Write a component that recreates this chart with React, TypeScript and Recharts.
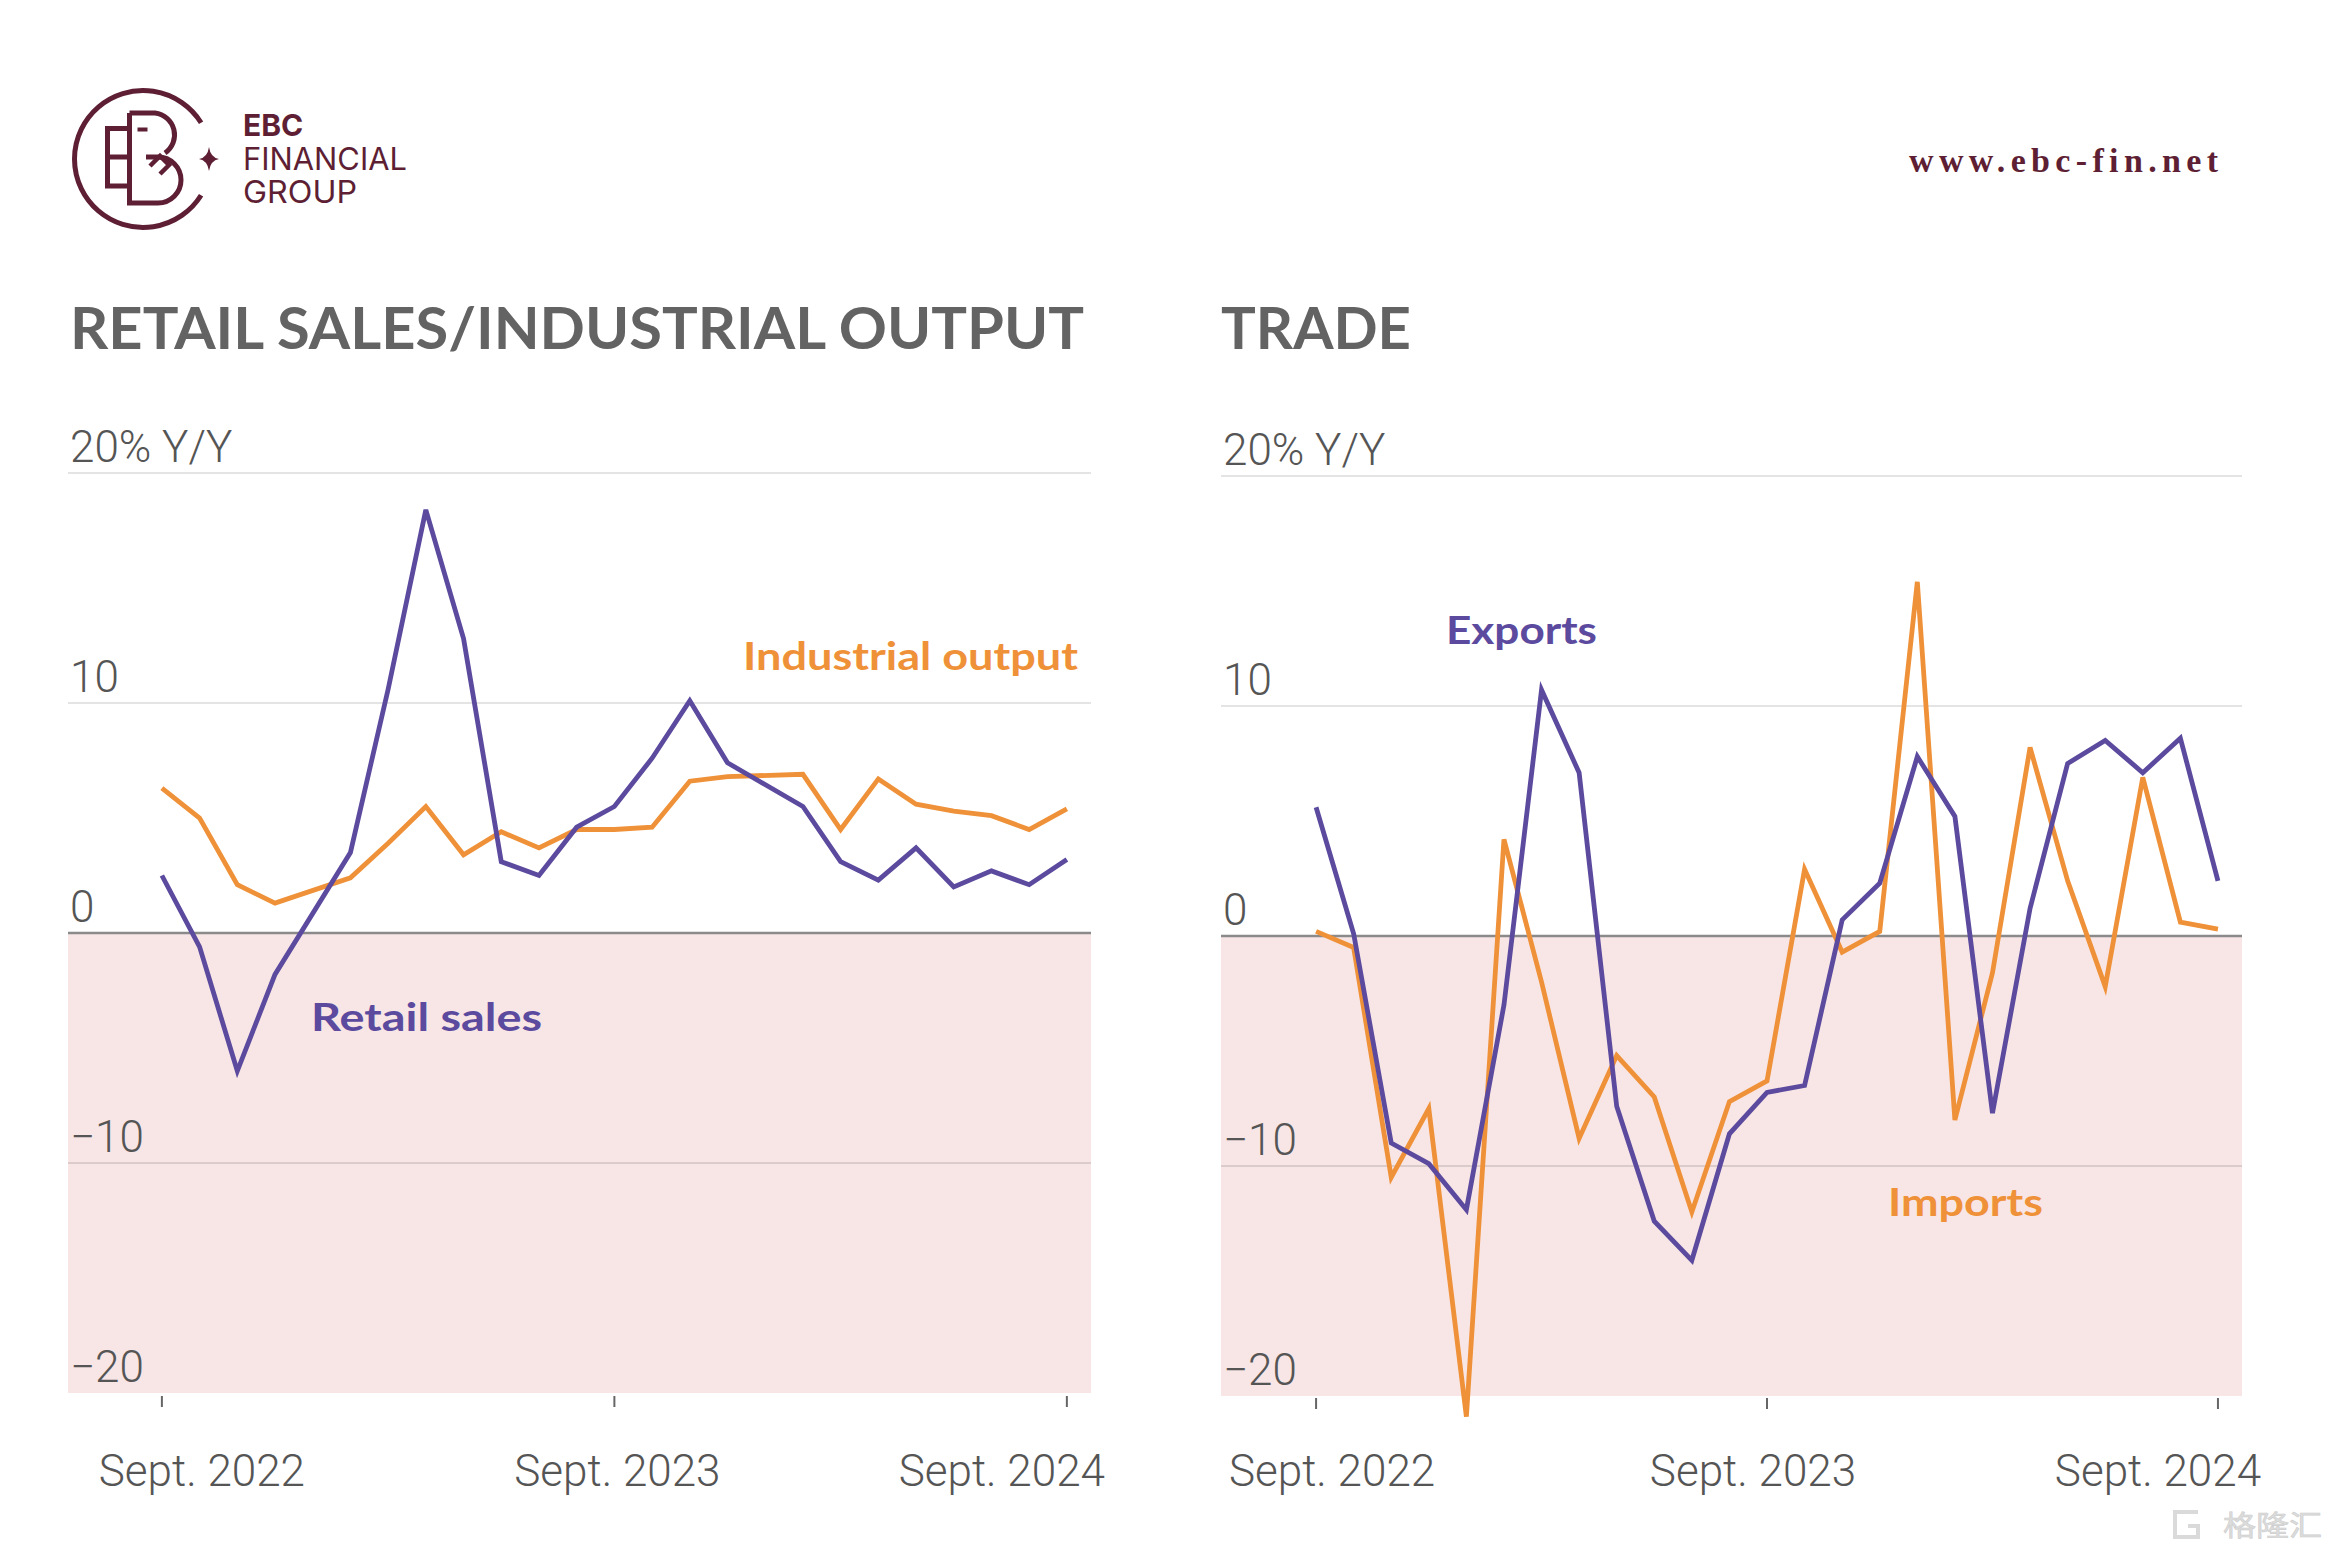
import React from 'react';
import { LineChart, Line, XAxis, YAxis, ReferenceArea, ReferenceLine } from 'recharts';

// ---------- data ----------
const months = [
  '2022-09', '2022-10', '2022-11', '2022-12', '2023-01', '2023-02', '2023-03', '2023-04',
  '2023-05', '2023-06', '2023-07', '2023-08', '2023-09', '2023-10', '2023-11', '2023-12',
  '2024-01', '2024-02', '2024-03', '2024-04', '2024-05', '2024-06', '2024-07', '2024-08', '2024-09',
];

const retailSales: (number | null)[] = [
  2.5, -0.6, -6.0, -1.8, null, 3.5, 10.6, 18.4, 12.8, 3.1, 2.5, 4.6, 5.5,
  7.6, 10.1, 7.4, null, 5.5, 3.1, 2.3, 3.7, 2.0, 2.7, 2.1, 3.2,
];
const industrialOutput: (number | null)[] = [
  6.3, 5.0, 2.1, 1.3, null, 2.4, 3.9, 5.5, 3.4, 4.4, 3.7, 4.5, 4.5,
  4.6, 6.6, 6.8, null, 6.9, 4.5, 6.7, 5.6, 5.3, 5.1, 4.5, 5.4,
];
const exportsYoY = [
  5.6, 0.1, -9.0, -9.9, -11.9, -3.0, 10.7, 7.1, -7.4, -12.4, -14.1, -8.6, -6.8,
  -6.5, 0.7, 2.3, 7.8, 5.2, -7.7, 1.2, 7.5, 8.5, 7.1, 8.6, 2.4,
];
const importsYoY = [
  0.2, -0.5, -10.5, -7.5, -20.9, 4.2, -2.0, -8.8, -5.2, -7.0, -12.0, -7.2, -6.3,
  2.9, -0.7, 0.2, 15.4, -8.0, -1.6, 8.2, 2.4, -2.2, 6.9, 0.6, 0.3,
];

const xTickValues = [0, 12, 24];
const xTickLabels = ['Sept. 2022', 'Sept. 2023', 'Sept. 2024'];
const yTickValues = [-20, -10, 0, 10, 20];
const yTickLabels = ['\u221220', '\u221210', '0', '10', '20% Y/Y'];

const leftData = months.map((m, i) => ({ idx: i, month: m, retail: retailSales[i], industrial: industrialOutput[i] }));
const rightData = months.map((m, i) => ({ idx: i, month: m, exports: exportsYoY[i], imports: importsYoY[i] }));

// ---------- style ----------
const PURPLE = '#5b4a9e';
const ORANGE = '#ef9138';
const PINK = '#f8e6e6';
const MAROON = '#5e1f34';
const TICK_FONT = 'Roboto, "Open Sans", sans-serif';
const BOLD_FONT = 'Lato, "Open Sans", sans-serif';

const gridStroke = (v: number) => (v === 0 ? '#8a8a8a' : v === -20 ? 'none' : v < 0 ? '#dccbcb' : '#e4e4e4');
const gridWidth = (v: number) => (v === 0 ? 2.5 : 2);

const YLabel = (props: any) => {
  const { viewBox, text } = props;
  const x = viewBox?.x ?? 0;
  const y = viewBox?.y ?? 0;
  return (
    <text x={x + 2} y={y - 11} fill="#555" fontSize={44} fontWeight={300} fontFamily={TICK_FONT}>
      {text}
    </text>
  );
};

const makeXTick = (offsets: number[], tickTop: number, labelY: number) => (props: any) => {
  const { x, payload } = props;
  const i = xTickValues.indexOf(payload.value);
  return (
    <g>
      <line x1={x} x2={x} y1={tickTop} y2={tickTop + 11} stroke="#666" strokeWidth={2} />
      <text x={x + offsets[i]} y={labelY} textAnchor="middle" fill="#555" fontSize={44} fontWeight={300} fontFamily={TICK_FONT}>
        {xTickLabels[i]}
      </text>
    </g>
  );
};

function Panel(props: {
  data: any[]; width: number; margin: any; xDomain: [number, number];
  keys: { key: string; color: string }[]; xOffsets: number[]; tickTop: number;
}) {
  const { data, width, margin, xDomain, keys, xOffsets, tickTop } = props;
  return (
    <LineChart width={width} height={1566} data={data} margin={margin}>
      <XAxis type="number" dataKey="idx" domain={xDomain} ticks={xTickValues} tickLine={false} axisLine={false}
        height={60} tick={makeXTick(xOffsets, tickTop, 1486)} interval={0} />
      <YAxis type="number" domain={[-21.5, 20]} ticks={yTickValues} hide />
      <ReferenceArea y1={-20} y2={0} fill={PINK} fillOpacity={1} stroke="none" />
      {yTickValues.map((v, i) => (
        <ReferenceLine key={v} y={v} stroke={gridStroke(v)} strokeWidth={gridWidth(v)}
          label={<YLabel text={yTickLabels[i]} />} />
      ))}
      {keys.map((k) => (
        <Line key={k.key} type="linear" dataKey={k.key} stroke={k.color} strokeWidth={4.8} dot={false}
          activeDot={false} connectNulls isAnimationActive={false} />
      ))}
    </LineChart>
  );
}

function Logo() {
  return (
    <g fill="none" stroke={MAROON} strokeWidth={5}>
      <path d="M201.1 122.7 A68.5 68.5 0 1 0 201.1 195.3" />
      <path d="M127 128.5 H107.5 V186 H127 M107.5 157 H131" />
      <path d="M129.5 113 V203 H158 A23 23 0 0 0 158 157 H146 M129.5 113 H155 A22 22 0 0 1 165 153" />
      <rect x={138} y={128} width={9} height={3} fill={MAROON} strokeWidth={1} />
      <path d="M150 166 L160 156 L169 165 L160 174" strokeWidth={4.5} />
      <path d="M209 147 Q210.5 157.5 219 159 Q210.5 160.5 209 171 Q207.5 160.5 199 159 Q207.5 157.5 209 147Z" fill={MAROON} stroke="none" />
    </g>
  );
}

export default function App() {
  return (
    <div style={{ position: 'absolute', left: 0, top: 0, width: 2334, height: 1566, background: '#fff', overflow: 'hidden' }}>
      <div style={{ position: 'absolute', left: 0, top: 0 }}>
        <Panel data={leftData} width={1160} margin={{ top: 473, left: 68, right: 69, bottom: 78.5 }}
          xDomain={[-2.49, 24.64]}
          keys={[{ key: 'industrial', color: ORANGE }, { key: 'retail', color: PURPLE }]}
          xOffsets={[40, 3, -65]} tickTop={1396} />
      </div>
      <div style={{ position: 'absolute', left: 1160, top: 0 }}>
        <Panel data={rightData} width={1174} margin={{ top: 476, left: 61, right: 92, bottom: 75.5 }}
          xDomain={[-2.53, 24.64]}
          keys={[{ key: 'imports', color: ORANGE }, { key: 'exports', color: PURPLE }]}
          xOffsets={[16, -14, -60]} tickTop={1398} />
      </div>
      <svg width={2334} height={1566} style={{ position: 'absolute', left: 0, top: 0, pointerEvents: 'none' }}>
        <Logo />
        <text x={243} y={136} fill={MAROON} fontSize={30} fontWeight={700} fontFamily='Inter, Lato, sans-serif'>EBC</text>
        <text x={243} y={170} fill={MAROON} fontSize={31} fontWeight={400} fontFamily='Inter, Lato, sans-serif' textLength={164} lengthAdjust="spacingAndGlyphs">FINANCIAL</text>
        <text x={243} y={203} fill={MAROON} fontSize={31} fontWeight={400} fontFamily='Inter, Lato, sans-serif' textLength={114} lengthAdjust="spacingAndGlyphs">GROUP</text>
        <text x={1909} y={172} fill={MAROON} fontSize={34} fontWeight={700} fontFamily='"Liberation Serif", "DejaVu Serif", serif' textLength={309} lengthAdjust="spacing">www.ebc-fin.net</text>

        <text x={70} y={349} fill="#636363" fontSize={58} fontWeight={700} fontFamily={BOLD_FONT} textLength={1014} lengthAdjust="spacingAndGlyphs">RETAIL SALES/INDUSTRIAL OUTPUT</text>
        <text x={1221} y={349} fill="#636363" fontSize={58} fontWeight={700} fontFamily={BOLD_FONT} textLength={190} lengthAdjust="spacingAndGlyphs">TRADE</text>

        <text x={743} y={670} fill={ORANGE} fontSize={39} fontWeight={700} fontFamily={BOLD_FONT} textLength={335} lengthAdjust="spacingAndGlyphs">Industrial output</text>
        <text x={311} y={1031} fill={PURPLE} fontSize={39} fontWeight={700} fontFamily={BOLD_FONT} textLength={231} lengthAdjust="spacingAndGlyphs">Retail sales</text>
        <text x={1446} y={644} fill={PURPLE} fontSize={39} fontWeight={700} fontFamily={BOLD_FONT} textLength={151} lengthAdjust="spacingAndGlyphs">Exports</text>
        <text x={1888} y={1216} fill={ORANGE} fontSize={39} fontWeight={700} fontFamily={BOLD_FONT} textLength={155} lengthAdjust="spacingAndGlyphs">Imports</text>

        <g opacity={0.9}>
          <path d="M2198 1512 H2175 V1537 H2198 V1526 H2188" fill="none" stroke="#d6d6d6" strokeWidth={4} />
          <text x={2223} y={1536} fill="#dadada" fontSize={28} fontFamily='"Noto Sans CJK SC", sans-serif' textLength={99} lengthAdjust="spacingAndGlyphs" stroke="#c8c8c8" strokeWidth={0.6}>格隆汇</text>
        </g>
      </svg>
    </div>
  );
}
